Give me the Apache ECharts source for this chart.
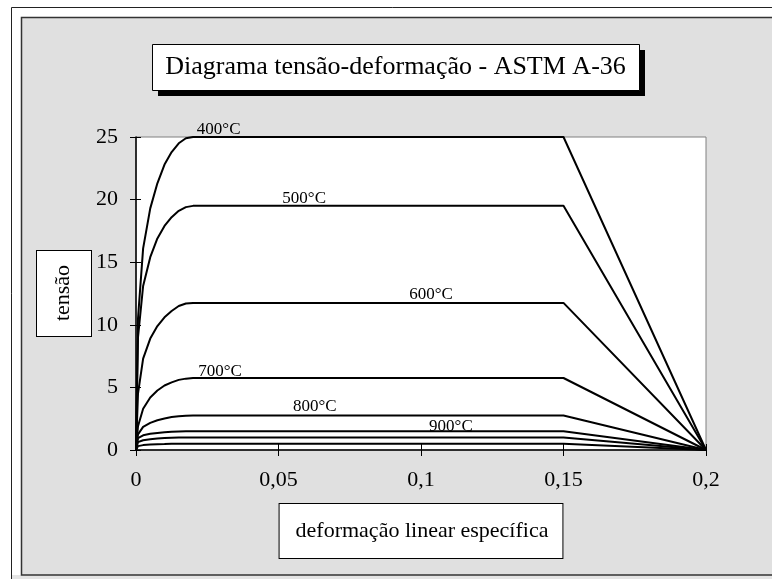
<!DOCTYPE html>
<html>
<head>
<meta charset="utf-8">
<script src="https://cdn.jsdelivr.net/npm/echarts@6/dist/echarts.min.js"></script>
<style>
  html, body { margin: 0; padding: 0; background: #fff; }
  #chart { width: 772px; height: 579px; }
</style>
</head>
<body>
<div id="chart"></div>
<script>
// deformação (strain) points shared by every curve
var strain = [0, 0.0007, 0.0025, 0.005, 0.0075, 0.01, 0.0125, 0.015, 0.0175, 0.02, 0.15, 0.2];

// tensão for each temperature
var s400  = [0, 10.5, 16.1, 19.3, 21.3, 22.8, 23.8, 24.5, 24.9, 25, 25, 0];
var s500  = [0, 9.0, 13.1, 15.4, 16.9, 17.9, 18.6, 19.1, 19.4, 19.5, 19.5, 0];
var s600  = [0, 4.5, 7.3, 8.9, 9.9, 10.6, 11.1, 11.5, 11.7, 11.75, 11.75, 0];
var s700  = [0, 1.9, 3.3, 4.2, 4.75, 5.15, 5.4, 5.6, 5.7, 5.75, 5.75, 0];
var s800  = [0, 1.25, 1.85, 2.17, 2.38, 2.52, 2.63, 2.7, 2.74, 2.75, 2.75, 0];
var s900  = [0, 0.94, 1.17, 1.29, 1.36, 1.42, 1.46, 1.48, 1.5, 1.5, 1.5, 0];
var s1000 = [0, 0.63, 0.78, 0.86, 0.91, 0.95, 0.97, 0.99, 1.0, 1.0, 1.0, 0];
var s1100 = [0, 0.31, 0.39, 0.43, 0.46, 0.47, 0.49, 0.49, 0.5, 0.5, 0.5, 0];

var curves = [s400, s500, s600, s700, s800, s900, s1000, s1100];
var temps = ['400°C', '500°C', '600°C', '700°C', '800°C', '900°C', '1000°C', '1100°C'];

// where each temperature label sits (data units), only the first six are labelled
// the 400°C one is anchored on the top edge and nudged up with labelLift (px)
var labelX = [0.029, 0.059, 0.1035, 0.0295, 0.0627, 0.1105];
var labelY = [25, 20.05, 12.4, 6.3, 3.45, 1.85];
var labelLift = [-7, 0, 0, 0, 0, 0];

var serif = 'Liberation Serif';

var series = curves.map(function (s, k) {
  var item = {
    name: temps[k],
    type: 'line',
    showSymbol: false,
    symbol: 'none',
    animation: false,
    lineStyle: { color: '#000', width: 2 },
    data: strain.map(function (x, i) { return [x, s[i]]; })
  };
  if (k < labelX.length) {
    item.markPoint = {
      symbol: 'rect',
      symbolSize: 1,
      itemStyle: { color: 'rgba(0,0,0,0)' },
      label: {
        show: true,
        position: 'inside',
        offset: [0, labelLift[k]],
        formatter: function (p) { return p.name; },
        color: '#000',
        fontFamily: serif,
        fontSize: 17
      },
      data: [{ name: temps[k], coord: [labelX[k], labelY[k]] }]
    };
  }
  return item;
});

function comma (v) { return String(+v.toFixed(2)).replace('.', ','); }

var axisFont = { color: '#000', fontFamily: serif, fontSize: 22 };

var option = {
  animation: false,
  backgroundColor: '#fff',
  graphic: [
    { type: 'rect', z: -20, shape: { x: 11.5, y: 7.5, width: 800, height: 600 },
      style: { fill: '#e4e4e4', stroke: '#222', lineWidth: 1 } },
    { type: 'rect', z: -19, shape: { x: 12, y: 8, width: 9, height: 567 },
      style: { fill: '#fff' } },
    { type: 'rect', z: -19, shape: { x: 12, y: 8, width: 800, height: 9 },
      style: { fill: '#fff' } },
    { type: 'rect', z: -18, shape: { x: 21.5, y: 17.5, width: 800, height: 557.5 },
      style: { fill: '#e0e0e0', stroke: '#333', lineWidth: 1.5 } },
    { type: 'rect', z: 10, shape: { x: 158, y: 50, width: 487, height: 46 },
      style: { fill: '#000' } },
    { type: 'rect', z: 11, shape: { x: 152.5, y: 44.5, width: 487, height: 46 },
      style: { fill: '#fff', stroke: '#000', lineWidth: 1 } },
    { type: 'text', z: 12, x: 395.5, y: 67,
      style: { text: 'Diagrama tensão-deformação - ASTM A-36', fill: '#000',
        font: '26px "Liberation Serif"', textAlign: 'center', textVerticalAlign: 'middle' } }
  ],
  grid: {
    left: 136, right: 66, top: 137, bottom: 129,
    show: true, backgroundColor: '#fff', borderColor: '#808080', borderWidth: 1
  },
  xAxis: [{
    type: 'value', min: 0, max: 0.2, interval: 0.05,
    name: 'deformação linear específica',
    nameLocation: 'middle', nameGap: 54, nameMoveOverlap: false,
    nameTextStyle: {
      color: '#000', fontFamily: serif, fontSize: 22,
      backgroundColor: '#fff', borderColor: '#000', borderWidth: 1,
      padding: [16, 14, 16, 16]
    },
    axisLine: { lineStyle: { color: '#000', width: 1.5 } },
    axisTick: { length: 6, lineStyle: { color: '#000' } },
    axisLabel: Object.assign({ margin: 19, formatter: comma }, axisFont),
    splitLine: { show: false }
  }, {
    type: 'value', min: 0, max: 0.2, interval: 0.05, position: 'bottom',
    axisLine: { show: false },
    axisTick: { inside: true, length: 6, lineStyle: { color: '#000' } },
    axisLabel: { show: false },
    splitLine: { show: false }
  }],
  yAxis: [{
    type: 'value', min: 0, max: 25, interval: 5,
    name: 'tensão',
    nameLocation: 'middle', nameGap: 45, nameRotate: 90, nameMoveOverlap: false,
    nameTextStyle: {
      color: '#000', fontFamily: serif, fontSize: 22,
      backgroundColor: '#fff', borderColor: '#000', borderWidth: 1,
      padding: [15, 14, 17, 15]
    },
    axisLine: { show: true, lineStyle: { color: '#000', width: 1.5 } },
    axisTick: { show: true, length: 6, lineStyle: { color: '#000' } },
    axisLabel: Object.assign({ margin: 18 }, axisFont),
    splitLine: { show: false }
  }, {
    type: 'value', min: 0, max: 25, interval: 5, position: 'left',
    axisLine: { show: false },
    axisTick: { show: true, inside: true, length: 5, lineStyle: { color: '#000' } },
    axisLabel: { show: false },
    splitLine: { show: false }
  }],
  series: series
};

var chart = echarts.init(document.getElementById('chart'));
chart.setOption(option);
</script>
</body>
</html>
